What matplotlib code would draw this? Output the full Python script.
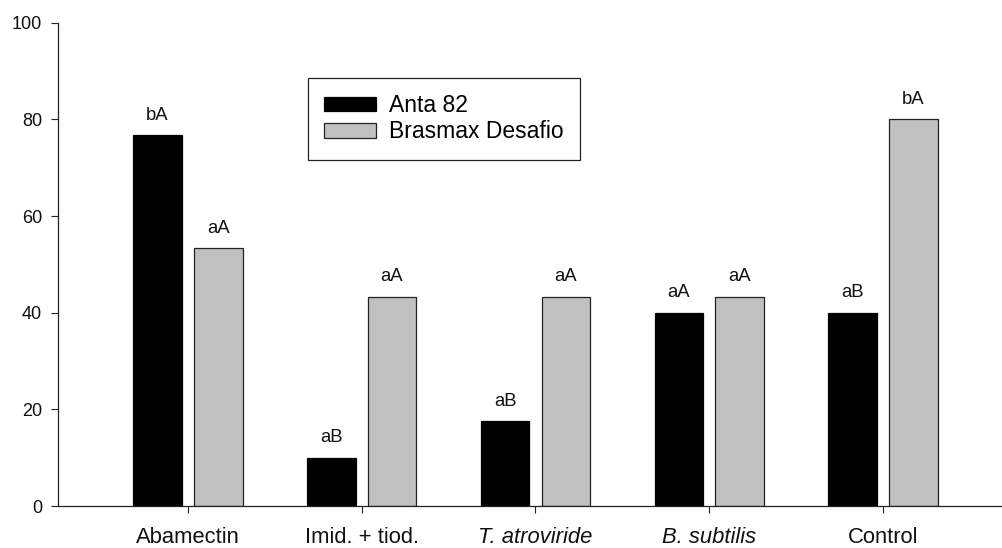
import numpy as np
import matplotlib
matplotlib.use("Agg")
import matplotlib.pyplot as plt

plt.rcParams['font.family'] = ['Liberation Sans', 'DejaVu Sans']

# treatments and the two cultivars
treatments = ['Abamectin', 'Imid. + tiod.', 'T. atroviride', 'B. subtilis', 'Control']
italic_labels = ['T. atroviride', 'B. subtilis']
anta82 = [76.7, 10.0, 17.6, 40.0, 40.0]
brasmax = [53.3, 43.3, 43.3, 43.3, 80.0]
anta82_letters = ['bA', 'aB', 'aB', 'aA', 'aB']
brasmax_letters = ['aA', 'aA', 'aA', 'aA', 'bA']

x = np.arange(len(treatments))
w = 0.28
off = 0.175

fig = plt.figure(figsize=(10.03, 5.48), dpi=100)
ax = fig.add_axes([0.0578, 0.0766, 0.9422, 0.882])

b1 = ax.bar(x - off, anta82, w, color='black', edgecolor='black', lw=0.9, label='Anta 82')
b2 = ax.bar(x + off, brasmax, w, color='#c0c0c0', edgecolor='#222222', lw=0.9, label='Brasmax Desafio')

# letters above each bar
for bars, letters in ((b1, anta82_letters), (b2, brasmax_letters)):
    for r, s in zip(bars, letters):
        ax.annotate(s, xy=(r.get_x() + r.get_width() / 2, r.get_height()),
                    xytext=(0, 11), textcoords='offset points',
                    ha='center', va='baseline', fontsize=13.3, color='#111111')

ax.set_xlim(-0.747, 4.69)
ax.set_ylim(0, 100)
ax.set_yticks(np.arange(0, 101, 20))
ax.set_xticks(x)
ax.set_xticklabels(treatments, fontsize=15.8)
for lab in ax.get_xticklabels():
    if lab.get_text() in italic_labels:
        lab.set_fontstyle('italic')
ax.tick_params(axis='y', labelsize=13, length=5, width=0.8, pad=6.5, colors='#222222', labelcolor='#111111')
ax.tick_params(axis='x', length=5, width=0.8, pad=10, colors='#222222', labelcolor='#111111')

for side in ('top', 'right'):
    ax.spines[side].set_visible(False)
for side in ('left', 'bottom'):
    ax.spines[side].set_linewidth(0.9)
    ax.spines[side].set_color('#222222')

leg = ax.legend(loc='upper left', bbox_to_anchor=(0.2646, 0.8856), fontsize=16.5,
                frameon=True, fancybox=False, shadow=False, framealpha=1,
                edgecolor='#222222', borderpad=0.7, labelspacing=0.15,
                handlelength=2.26, handleheight=0.6, handletextpad=0.57,
                borderaxespad=0)
leg.get_frame().set_linewidth(0.9)

fig.savefig('out.png', dpi=100)
